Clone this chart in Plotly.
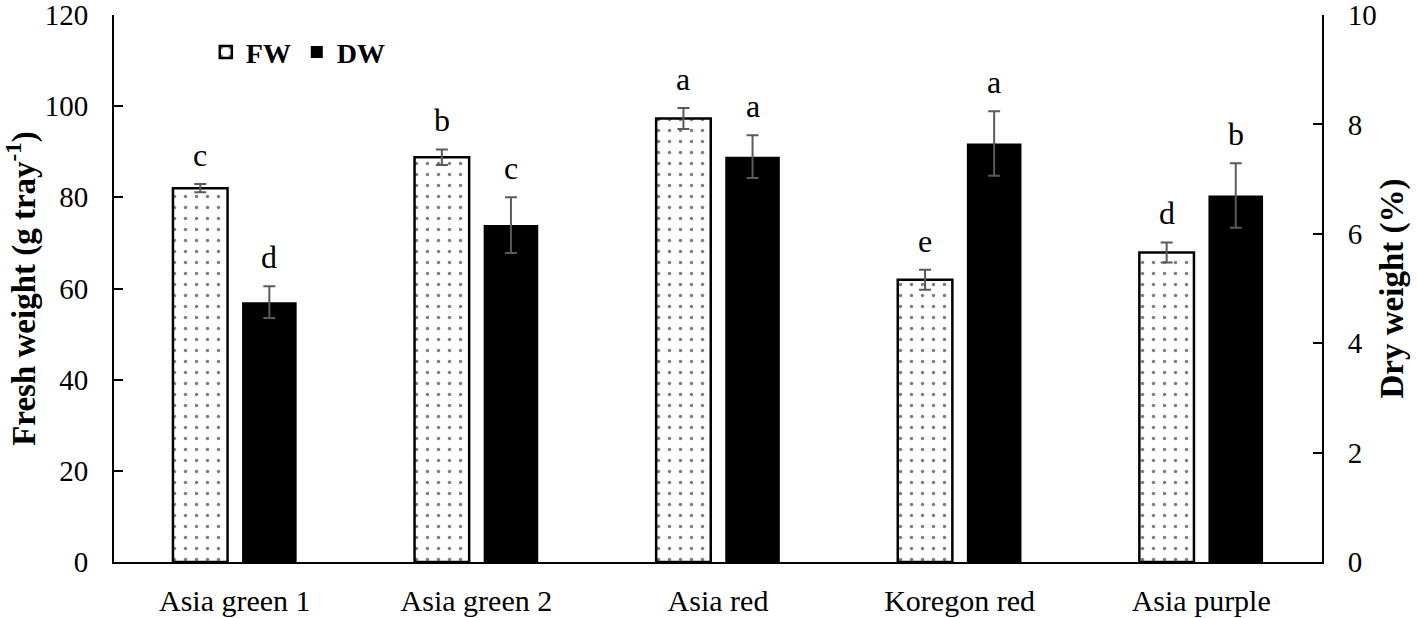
import plotly.graph_objects as go

categories = ["Asia green 1", "Asia green 2", "Asia red", "Koregon red", "Asia purple"]
fw = [82.0, 88.8, 97.3, 61.9, 67.9]
fw_err = [0.9, 1.7, 2.3, 2.2, 2.2]
dw = [4.75, 6.16, 7.41, 7.65, 6.70]
dw_err = [0.29, 0.51, 0.39, 0.59, 0.59]
fw_letters = ["c", "b", "a", "e", "d"]
dw_letters = ["d", "c", "a", "a", "b"]
left_ticks = [0, 20, 40, 60, 80, 100, 120]
right_ticks = [0, 2, 4, 6, 8, 10]

FONT = "Liberation Serif"
BAR_W = 0.226
OFF = 0.143
ERR_COLOR = "#5a5a5a"

fig = go.Figure()
fig.add_trace(go.Bar(
    x=categories, y=fw, name="FW", yaxis="y",
    width=BAR_W, offset=-OFF - BAR_W / 2,
    marker=dict(color="white", line=dict(color="black", width=2.5),
                pattern=dict(shape=".", fgcolor="black", bgcolor="white",
                             size=11, solidity=0.08)),
    error_y=dict(type="data", array=fw_err, color=ERR_COLOR, thickness=2, width=6),
))
fig.add_trace(go.Bar(
    x=categories, y=dw, name="DW", yaxis="y2",
    width=BAR_W, offset=OFF - BAR_W / 2,
    marker=dict(color="black", line=dict(color="black", width=0)),
    error_y=dict(type="data", array=dw_err, color=ERR_COLOR, thickness=2, width=6),
))

annotations = []
for i in range(len(categories)):
    annotations.append(dict(x=i - OFF, y=fw[i] + fw_err[i], xref="x", yref="y",
                            text=fw_letters[i], showarrow=False, yanchor="bottom",
                            yshift=9, font=dict(family=FONT, size=32, color="black")))
    annotations.append(dict(x=i + OFF, y=dw[i] + dw_err[i], xref="x", yref="y2",
                            text=dw_letters[i], showarrow=False, yanchor="bottom",
                            yshift=9, font=dict(family=FONT, size=32, color="black")))

axis_common = dict(showline=True, linecolor="black", linewidth=2, showgrid=False,
                   zeroline=False, ticks="inside", ticklen=9, tickwidth=2,
                   tickcolor="black", ticklabeloverflow="allow", automargin=False,
                   tickfont=dict(family=FONT, size=29, color="black"))

fig.update_layout(
    width=1417, height=618,
    margin=dict(l=114, r=95, t=15, b=56),
    paper_bgcolor="white", plot_bgcolor="white",
    barmode="overlay",
    font=dict(family=FONT, color="black"),
    xaxis=dict(showline=True, linecolor="black", linewidth=2, showgrid=False,
               ticks="", automargin=False,
               tickfont=dict(family=FONT, size=30, color="black"),
               ticklabelstandoff=11),
    yaxis=dict(range=[0, 120], tickvals=left_ticks, ticklabelstandoff=18,
               title=dict(text="<b>Fresh weight (g tray<sup>-1</sup>)</b>",
                          font=dict(family=FONT, size=33, color="black"), standoff=6),
               **axis_common),
    yaxis2=dict(range=[0, 10], tickvals=right_ticks, overlaying="y", side="right",
                anchor="x", ticklabelstandoff=18,
                title=dict(text="<b>Dry weight (%)</b>",
                           font=dict(family=FONT, size=33, color="black"), standoff=4),
                **axis_common),
    legend=dict(orientation="h", x=0.076, y=0.932, xanchor="left", yanchor="middle",
                font=dict(family=FONT, size=28, color="black", weight="bold"),
                bgcolor="rgba(0,0,0,0)", itemwidth=30,
                entrywidth=46, entrywidthmode="pixels"),
    annotations=annotations,
    showlegend=True,
)

fig.write_html("out.html", config={"displayModeBar": False},
               post_script="document.body.style.margin='0px';")
